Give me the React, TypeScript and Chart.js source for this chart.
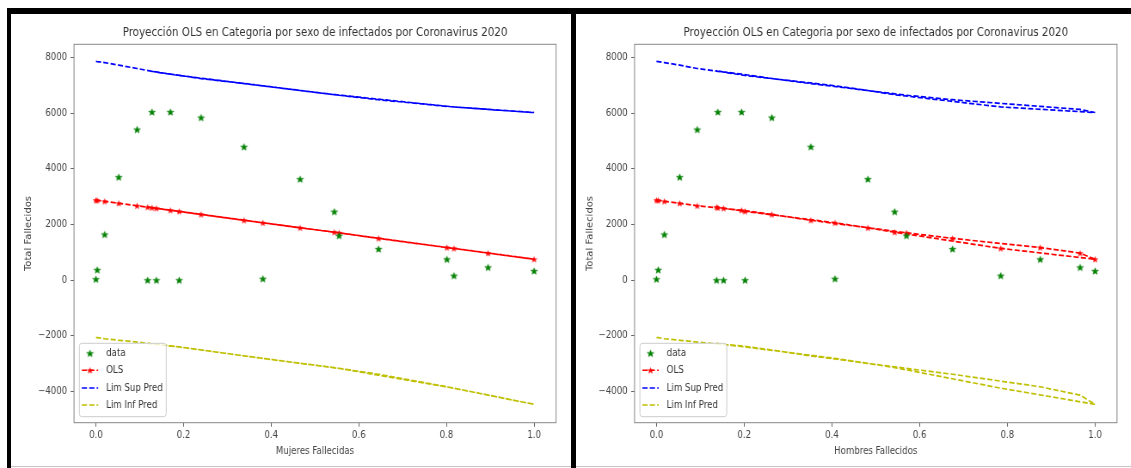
import React, { useEffect, useRef } from "react";
import { Chart, registerables } from "chart.js";
Chart.register(...registerables);

// ---- data (order of observations as plotted) ----
const womenDeathsNorm = [0.0, 0.003, 0.02, 0.052, 0.094, 0.128, 0.17, 0.24, 0.338, 0.555, 0.645, 0.801, 0.895, 1.0, 0.817, 0.544, 0.466, 0.381, 0.19, 0.138, 0.118];
const menDeathsNorm = [0.0, 0.004, 0.018, 0.053, 0.093, 0.14, 0.194, 0.263, 0.352, 0.57, 0.675, 0.875, 0.966, 1.0, 0.785, 0.543, 0.482, 0.407, 0.202, 0.153, 0.137];
const totalDeaths = [35, 370, 1640, 3700, 5410, 6040, 6040, 5840, 4790, 1600, 1120, 750, 460, 330, 160, 2460, 3630, 50, 0, 0, 0];
const olsFitted = [2870, 2865, 2830, 2760, 2670, 2600, 2510, 2360, 2150, 1700, 1500, 1170, 970, 750, 1140, 1720, 1880, 2060, 2470, 2580, 2620];
const limSupPred = [7860, 7850, 7815, 7720, 7600, 7500, 7400, 7240, 7060, 6640, 6480, 6240, 6130, 6020, 6220, 6660, 6810, 6980, 7350, 7470, 7530];
const limInfPred = [-2060, -2065, -2105, -2160, -2225, -2290, -2360, -2510, -2720, -3170, -3380, -3830, -4130, -4460, -3880, -3140, -2990, -2810, -2400, -2310, -2270];

const yTickValues = [-4000, -2000, 0, 2000, 4000, 6000, 8000];
const xTickValues = [0, 0.2, 0.4, 0.6, 0.8, 1.0];
const legendLabels = ["data", "OLS", "Lim Sup Pred", "Lim Inf Pred"];
const chartTitle = "Proyección OLS en Categoria por sexo de infectados por Coronavirus 2020";
const yAxisTitle = "Total Fallecidos";

const SX = 0.86;
const FONT = "'DejaVu Sans', sans-serif";
const C_GREEN = "#008000";
const C_RED = "#ff0000";
const C_BLUE = "#0000ff";
const C_YELLOW = "#bfbf00";
const DASH = [6, 2.6];

function makeStar(color: string, r: number): HTMLCanvasElement {
  const sx = 1 / SX;
  const w = Math.ceil(2 * r * sx) + 2;
  const h = Math.ceil(2 * r) + 2;
  const c = document.createElement("canvas");
  c.width = w;
  c.height = h;
  const ctx = c.getContext("2d")!;
  ctx.translate(w / 2, h / 2 + 0.4);
  ctx.scale(sx, 1);
  ctx.beginPath();
  for (let i = 0; i < 10; i++) {
    const rad = i % 2 === 0 ? r : r * 0.42;
    const a = -Math.PI / 2 + (i * Math.PI) / 5;
    ctx.lineTo(rad * Math.cos(a), rad * Math.sin(a));
  }
  ctx.closePath();
  ctx.fillStyle = color;
  ctx.fill();
  ctx.lineWidth = 0.5;
  ctx.strokeStyle = color;
  ctx.stroke();
  return c;
}

type PanelProps = {
  xs: number[];
  xLabel: string;
  left: number;
  canvasW: number;
  axisW: number;
  padRight: number;
  yTitlePad: number;
};

function Panel({ xs, xLabel, left, canvasW, axisW, padRight, yTitlePad }: PanelProps) {
  const ref = useRef<HTMLCanvasElement>(null);
  useEffect(() => {
    const greenStar = makeStar(C_GREEN, 3.6);
    const redStar = makeStar(C_RED, 2.9);
    const pts = (ys: number[]) => xs.map((x, i) => ({ x, y: ys[i] }));

    const framePlugin = {
      id: "mplFrame",
      afterDatasetsDraw(chart: any) {
        const { ctx, chartArea } = chart;
        const { left: l, right: r, top: t, bottom: b } = chartArea;
        ctx.save();
        ctx.strokeStyle = "#888";
        ctx.lineWidth = 1;
        ctx.strokeRect(l, t, r - l, b - t);
        // legend
        const bl = l + 6.2, br = l + 107.2, bt = b - 79.4, bb = b - 6;
        ctx.beginPath();
        const rr = 3;
        ctx.moveTo(bl + rr, bt);
        ctx.lineTo(br - rr, bt);
        ctx.quadraticCurveTo(br, bt, br, bt + rr);
        ctx.lineTo(br, bb - rr);
        ctx.quadraticCurveTo(br, bb, br - rr, bb);
        ctx.lineTo(bl + rr, bb);
        ctx.quadraticCurveTo(bl, bb, bl, bb - rr);
        ctx.lineTo(bl, bt + rr);
        ctx.quadraticCurveTo(bl, bt, bl + rr, bt);
        ctx.closePath();
        ctx.fillStyle = "rgba(255,255,255,0.8)";
        ctx.fill();
        ctx.strokeStyle = "#cccccc";
        ctx.stroke();
        const rows = [b - 69.4, b - 52.4, b - 34.7, b - 17.7];
        const colors = [C_GREEN, C_RED, C_BLUE, C_YELLOW];
        const hx0 = l + 9.1, hx1 = l + 28.1, hc = (hx0 + hx1) / 2;
        rows.forEach((ry, i) => {
          if (i > 0) {
            ctx.beginPath();
            ctx.setLineDash(DASH);
            ctx.strokeStyle = colors[i];
            ctx.lineWidth = 1.6;
            ctx.moveTo(hx0, ry);
            ctx.lineTo(hx1, ry);
            ctx.stroke();
            ctx.setLineDash([]);
          }
          if (i === 0) ctx.drawImage(greenStar, hc - greenStar.width / 2, ry - greenStar.height / 2);
          if (i === 1) ctx.drawImage(redStar, hc - redStar.width / 2, ry - redStar.height / 2);
          ctx.fillStyle = "#333";
          ctx.font = `10px ${FONT}`;
          ctx.textBaseline = "middle";
          ctx.textAlign = "left";
          ctx.fillText(legendLabels[i], l + 37.4, ry);
        });
        ctx.restore();
      },
    };

    const chart = new Chart(ref.current!, {
      type: "scatter",
      data: {
        datasets: [
          {
            label: legendLabels[0],
            data: pts(totalDeaths),
            showLine: false,
            pointStyle: greenStar,
            pointRadius: 4,
            order: 0,
          },
          {
            label: legendLabels[1],
            data: pts(olsFitted),
            showLine: true,
            borderColor: C_RED,
            borderWidth: 1.7,
            borderDash: DASH,
            pointStyle: redStar,
            pointRadius: 3,
            order: 1,
          },
          {
            label: legendLabels[2],
            data: pts(limSupPred),
            showLine: true,
            borderColor: C_BLUE,
            borderWidth: 1.7,
            borderDash: DASH,
            pointRadius: 0,
            order: 2,
          },
          {
            label: legendLabels[3],
            data: pts(limInfPred),
            showLine: true,
            borderColor: C_YELLOW,
            borderWidth: 1.7,
            borderDash: DASH,
            pointRadius: 0,
            order: 3,
          },
        ] as any,
      },
      options: {
        animation: false,
        responsive: false,
        events: [],
        layout: { padding: { left: 0, right: padRight, top: 0, bottom: 0 } },
        plugins: {
          legend: { display: false },
          tooltip: { enabled: false },
          title: {
            display: true,
            text: chartTitle,
            fullSize: false,
            color: "#333",
            font: { family: FONT, size: 12, weight: "normal" as any, lineHeight: 1.2 },
            padding: { top: 10.8, bottom: 4.1 },
          },
        },
        scales: {
          x: {
            type: "linear",
            position: "bottom",
            min: -0.05,
            max: 1.05,
            afterBuildTicks: (s: any) => {
              s.ticks = xTickValues.map((v) => ({ value: v }));
            },
            afterFit: (s: any) => {
              s.height = 42.3;
            },
            grid: { display: true, drawOnChartArea: false, drawTicks: true, tickLength: 4, color: "#666" },
            border: { display: false },
            ticks: {
              padding: 3,
              color: "#444",
              font: { family: FONT, size: 10 },
              maxRotation: 0,
              autoSkip: false,
              callback: (v: any) => Number(v).toFixed(1),
            },
            title: {
              display: true,
              text: xLabel,
              color: "#444",
              font: { family: FONT, size: 10, lineHeight: 1.2 },
              padding: { top: 0, bottom: 8 },
            },
          },
          y: {
            type: "linear",
            position: "left",
            min: -5120,
            max: 8470,
            afterBuildTicks: (s: any) => {
              s.ticks = yTickValues.map((v) => ({ value: v }));
            },
            afterFit: (s: any) => {
              s.width = axisW;
            },
            grid: { display: true, drawOnChartArea: false, drawTicks: true, tickLength: 4, color: "#666" },
            border: { display: false },
            ticks: {
              padding: 4,
              color: "#444",
              font: { family: FONT, size: 10 },
              autoSkip: false,
              callback: (v: any) => (Number(v) < 0 ? "\u2212" + Math.abs(Number(v)) : String(v)),
            },
            title: {
              display: true,
              text: yAxisTitle,
              color: "#444",
              font: { family: FONT, size: 10, lineHeight: 1.2 },
              padding: { top: yTitlePad, bottom: 0 },
            },
          },
        },
      } as any,
      plugins: [framePlugin],
    });
    return () => chart.destroy();
  }, []);
  return (
    <div
      style={{
        position: "absolute",
        left,
        top: 15,
        width: canvasW,
        height: 450,
        transform: `scaleX(${SX})`,
        transformOrigin: "0 0",
      }}
    >
      <canvas ref={ref} width={canvasW} height={450} style={{ width: canvasW, height: 450, display: "block" }} />
    </div>
  );
}

export default function App() {
  return (
    <div
      style={{
        position: "fixed",
        left: 0,
        top: 0,
        width: 1131,
        height: 468,
        background: "#fff",
        overflow: "hidden",
      }}
    >
      <Panel xs={womenDeathsNorm} xLabel="Mujeres Fallecidas" left={12} canvasW={650} axisW={72.1} padRight={17.4} yTitlePad={13.8} />
      <Panel xs={menDeathsNorm} xLabel="Hombres Fallecidos" left={577} canvasW={644} axisW={66.9} padRight={16.1} yTitlePad={9.1} />
      <div style={{ position: "absolute", left: 7, top: 8, width: 1124, height: 6, background: "#000" }} />
      <div style={{ position: "absolute", left: 7, top: 8, width: 4, height: 460, background: "#000" }} />
      <div style={{ position: "absolute", left: 571, top: 8, width: 5, height: 460, background: "#000" }} />
      <div style={{ position: "absolute", left: 11, top: 466, width: 560, height: 1, background: "#c4c4c4" }} />
      <div style={{ position: "absolute", left: 576, top: 466, width: 555, height: 1, background: "#c4c4c4" }} />
    </div>
  );
}
